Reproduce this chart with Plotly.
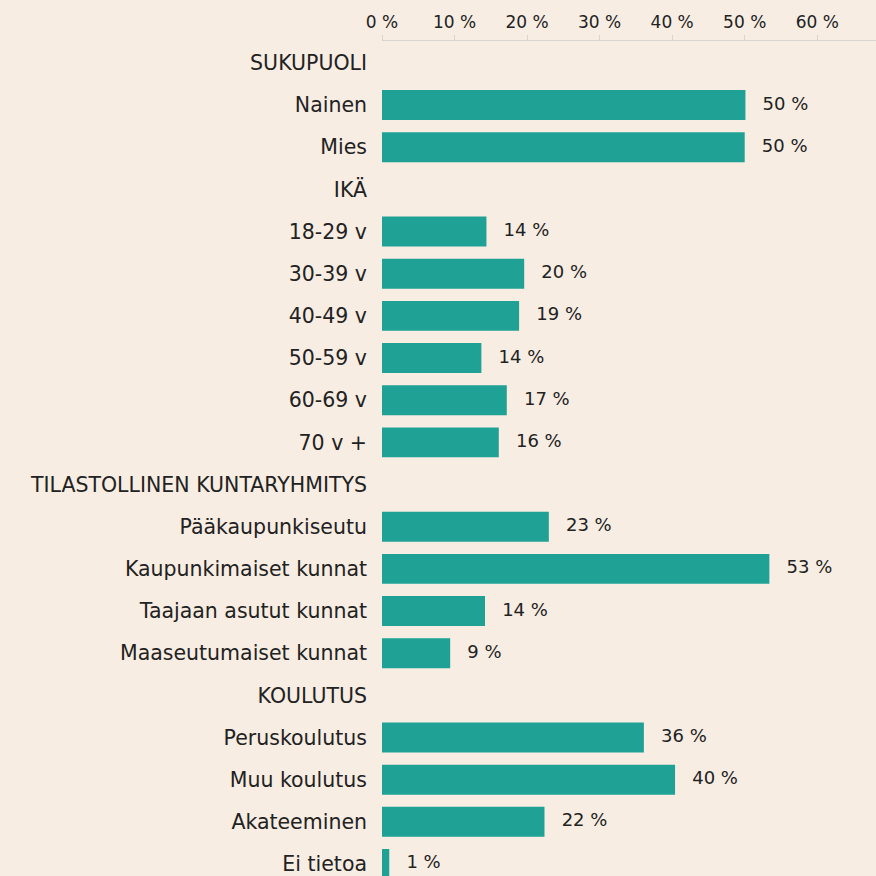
import plotly.graph_objects as go

categories = ["SUKUPUOLI", "Nainen", "Mies", "IKÄ", "18-29 v", "30-39 v", "40-49 v",
              "50-59 v", "60-69 v", "70 v +", "TILASTOLLINEN KUNTARYHMITYS",
              "Pääkaupunkiseutu", "Kaupunkimaiset kunnat", "Taajaan asutut kunnat",
              "Maaseutumaiset kunnat", "KOULUTUS", "Peruskoulutus", "Muu koulutus",
              "Akateeminen", "Ei tietoa"]
values = [None, 50.1, 50.0, None, 14.4, 19.6, 18.9, 13.7, 17.2, 16.1, None,
          23.0, 53.4, 14.2, 9.4, None, 36.1, 40.4, 22.4, 1.0]
tick_vals = [0, 10, 20, 30, 40, 50, 60]
tick_text = ["0 %", "10 %", "20 %", "30 %", "40 %", "50 %", "60 %"]

labels = ["" if v is None else f"   {round(v)} %" for v in values]
FONT = "DejaVu Sans"
TXT = "#222222"
BG = "#F7EDE3"

fig = go.Figure()
fig.add_trace(go.Bar(
    y=categories, x=values, orientation="h",
    marker=dict(color="#1FA195", line=dict(width=0)),
    width=0.71,
))
fig.add_trace(go.Scatter(
    y=categories, x=values, mode="text",
    text=labels, textposition="middle right",
    textfont=dict(family=FONT, size=18, color=TXT),
    cliponaxis=False, hoverinfo="skip",
))
n = len(categories)
fig.update_layout(
    width=876, height=876,
    paper_bgcolor=BG, plot_bgcolor=BG,
    margin=dict(l=382, r=0, t=41, b=0),
    showlegend=False,
)
fig.update_xaxes(
    side="top", range=[0, 68.1], tickvals=tick_vals, ticktext=tick_text,
    showgrid=False, zeroline=False, showline=True, linecolor="#D9D6D2", linewidth=1,
    ticks="outside", ticklen=5, tickcolor="#D9D6D2",
    tickfont=dict(family=FONT, size=17, color=TXT),
)
fig.update_yaxes(
    type="category", categoryorder="array", categoryarray=categories,
    range=[n - 1 + 0.285, -0.52],
    showgrid=False, zeroline=False, showline=False,
    ticks="", ticklabelstandoff=14,
    tickfont=dict(family=FONT, size=20.5, color=TXT),
)
fig.write_html(
    "out.html",
    config={"displayModeBar": False},
    post_script="document.body.style.margin='0px';document.body.style.background='" + BG + "';document.body.style.overflow='hidden';",
)
